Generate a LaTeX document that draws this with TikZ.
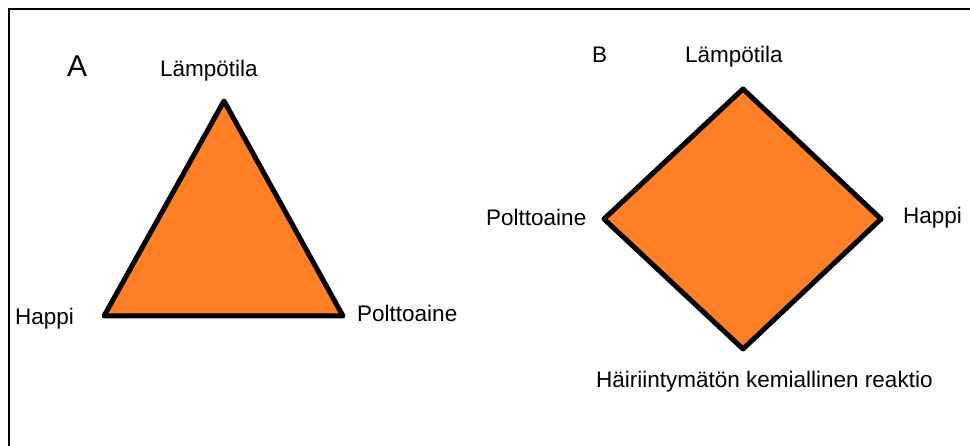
\documentclass[tikz,border=0pt]{standalone}
\usepackage{fontspec}
\setmainfont{Liberation Sans}
\usetikzlibrary{positioning}
\definecolor{fireorange}{RGB}{255,127,39}
\tikzset{
  shapeline/.style={draw=black, line width=5pt, fill=fireorange, line join=round},
  frameline/.style={draw=black, line width=2.5pt},
  lbl/.style={font=\fontsize{22.5}{26}\selectfont, inner sep=0pt, anchor=base west},
  biglbl/.style={font=\fontsize{30}{34}\selectfont, inner sep=0pt, anchor=base west}
}
\begin{document}
\begin{tikzpicture}[x=1pt,y=-1pt]
\useasboundingbox (0,0) rectangle (970,446);
\coordinate (fbot) at (9,446);
\coordinate (fcorner) at (9,9);
\coordinate (fright) at (970,9);
\draw[frameline] (fbot) -- (fcorner) -- (fright);

\coordinate (topA) at (224,101);
\coordinate (leftA) at (104,316);
\coordinate (rightA) at (343,316);
\draw[shapeline] (topA) -- (rightA) -- (leftA) -- cycle;
\node[biglbl] (markA) at (67,77) {A};
\node[lbl] (lampA) at (160,77) {Lämpötila};
\node[lbl] (happiA) at (15,325) {Happi};
\node[lbl] (polttoA) at (357,322) {Polttoaine};

\coordinate (topB) at (743,89);
\coordinate (leftB) at (604,219);
\coordinate (rightB) at (881,219);
\coordinate (botB) at (743,349);
\draw[shapeline] (topB) -- (rightB) -- (botB) -- (leftB) -- cycle;
\node[lbl] (markB) at (592,63) {B};
\node[lbl] (lampB) at (685,63) {Lämpötila};
\node[lbl] (polttoB) at (486,226) {Polttoaine};
\node[lbl] (happiB) at (903,224) {Happi};
\node[lbl] (reakB) at (596,388) {Häiriintymätön kemiallinen reaktio};
\end{tikzpicture}
\end{document}
